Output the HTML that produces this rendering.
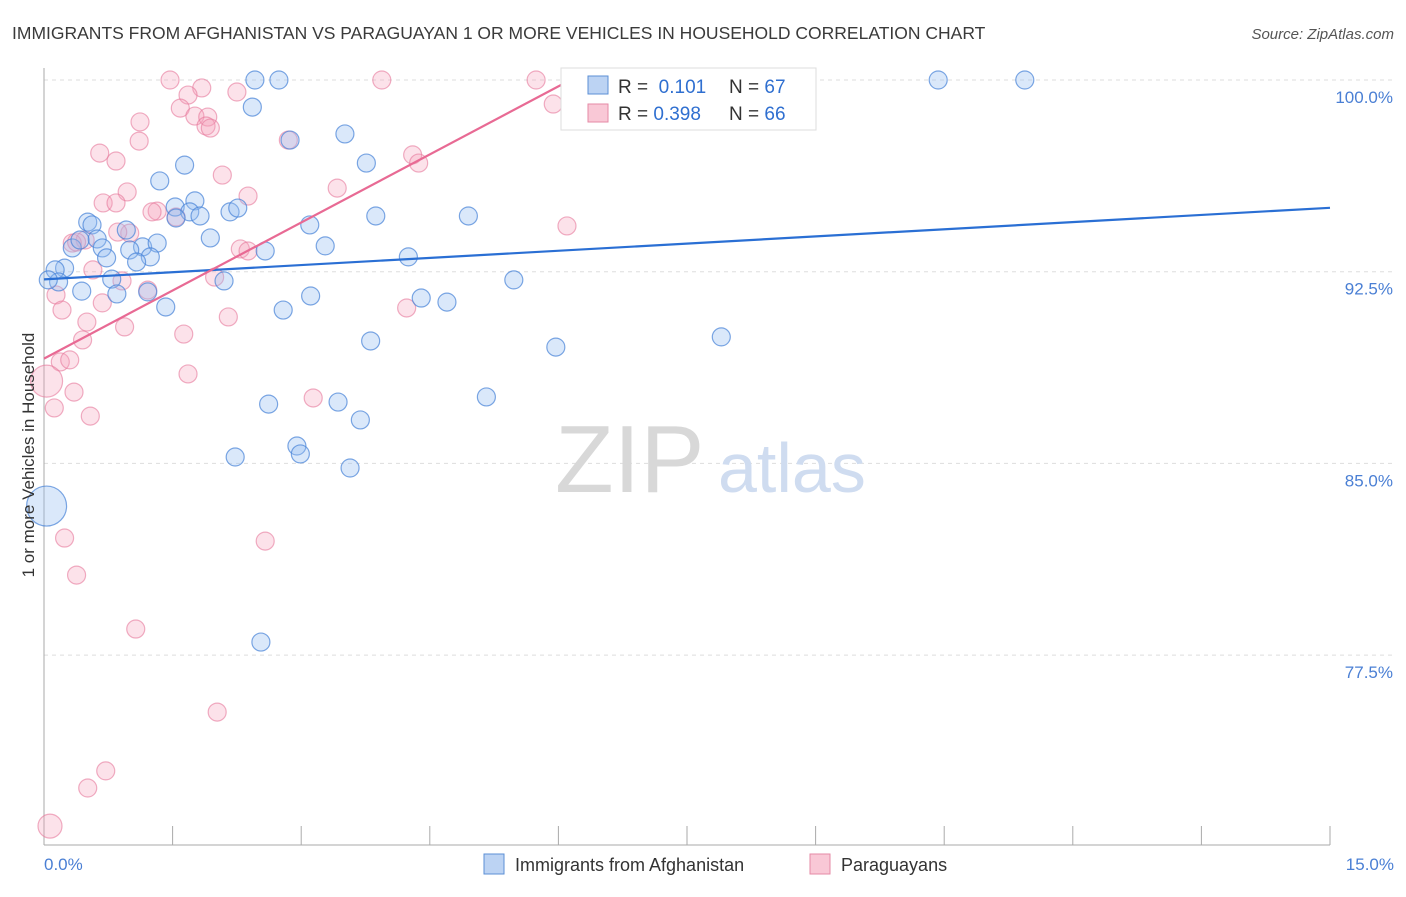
<!DOCTYPE html>
<html><head><meta charset="utf-8"><style>
body{margin:0;background:#fff;font-family:"Liberation Sans",sans-serif;}
svg text{font-family:"Liberation Sans",sans-serif;}
</style></head><body>
<svg width="1406" height="892" viewBox="0 0 1406 892">
<text x="12" y="39" font-size="17.5" fill="#3a3a3a">IMMIGRANTS FROM AFGHANISTAN VS PARAGUAYAN 1 OR MORE VEHICLES IN HOUSEHOLD CORRELATION CHART</text>
<text x="1394" y="39" font-size="15" fill="#555" text-anchor="end" font-style="italic">Source: ZipAtlas.com</text>
<g id="grid"></g>
<g id="axes"></g>
<text x="555" y="492" font-size="96" fill="#d8d8d8" font-family="Liberation Serif">ZIP</text>
<text x="718" y="492" font-size="70" fill="#cfdcf0">atlas</text>
<g id="pts"></g>
<g id="lines"></g>
<text transform="translate(34,455) rotate(-90)" font-size="17" fill="#333" text-anchor="middle">1 or more Vehicles in Household</text>
<text x="44" y="870" font-size="17" fill="#4a7fd4">0.0%</text>
<text x="1394" y="870" font-size="17" fill="#4a7fd4" text-anchor="end">15.0%</text>
<g>
<rect x="561" y="68" width="255" height="62" fill="#fff" stroke="#ddd"/>
<rect x="588" y="76" width="20" height="18" fill="#bcd3f3" stroke="#5b8fd6"/>
<rect x="588" y="104" width="20" height="18" fill="#f9c8d6" stroke="#e58aa6"/>
<text x="618" y="93" font-size="19" fill="#333">R = <tspan fill="#2f6fd0">&#160;0.101</tspan><tspan x="729">N = </tspan><tspan fill="#2f6fd0">67</tspan></text>
<text x="618" y="120" font-size="19" fill="#333">R = <tspan fill="#2f6fd0">0.398</tspan><tspan x="729">N = </tspan><tspan fill="#2f6fd0">66</tspan></text>
</g>
<g>
<rect x="484" y="854" width="20" height="20" fill="#bcd3f3" stroke="#5b8fd6"/>
<text x="515" y="871" font-size="18" fill="#333">Immigrants from Afghanistan</text>
<rect x="810" y="854" width="20" height="20" fill="#f9c8d6" stroke="#e58aa6"/>
<text x="841" y="871" font-size="18" fill="#333">Paraguayans</text>
</g>
</svg>
<script>
const yTicks=[100,92.5,85,77.5];
const xTicks=[0,1.5,3,4.5,6,7.5,9,10.5,12,13.5,15];
const blueTrend=[92.2,95.0];
const pinkTrend=[89.1,100];
const pinkTrendEndX=6.14;
// pixel coords converted: blue series [x%, y%]
const bluePx=[[255,80],[279,80],[938,80],[1025,80],[252,107],[345,134],[290,140],[185,165],[366,163],[160,181],[195,201],[175,207],[190,212],[230,212],[238,208],[176,218],[200,216],[376,216],[468,216],[88,222],[92,225],[310,225],[126,230],[210,238],[97,239],[72,248],[80,240],[143,247],[157,243],[102,248],[130,250],[265,251],[325,246],[408,257],[107,258],[150,257],[137,262],[65,268],[55,270],[59,282],[48,280],[82,291],[112,279],[224,281],[514,280],[117,294],[311,296],[148,292],[421,298],[447,302],[166,307],[283,310],[371,341],[556,347],[721,337],[486,397],[269,404],[338,402],[360,420],[297,446],[300,454],[235,457],[350,468],[261,642],[47,506]];
const pinkPx=[[170,80],[382,80],[536,80],[637,80],[202,88],[188,95],[237,92],[180,108],[553,104],[195,116],[208,117],[140,122],[206,126],[210,128],[139,141],[288,140],[100,153],[116,161],[413,155],[419,163],[222,175],[127,192],[337,188],[248,196],[103,203],[116,203],[157,211],[152,212],[130,233],[118,232],[567,226],[176,217],[85,240],[72,243],[77,242],[240,249],[248,251],[93,270],[122,281],[215,277],[56,295],[148,290],[102,303],[407,308],[62,310],[228,317],[87,322],[125,327],[184,334],[83,340],[60,362],[70,360],[188,374],[47,381],[74,392],[54,408],[90,416],[313,398],[65,538],[265,541],[77,575],[136,629],[217,712],[106,771],[88,788],[50,826]];
const blueX=bluePx.map(p=>+((p[0]-44)*15/1286).toFixed(2));
const blueY=bluePx.map(p=>+(100-(p[1]-80)*7.5/191.7).toFixed(2));
const pinkX=pinkPx.map(p=>+((p[0]-44)*15/1286).toFixed(2));
const pinkY=pinkPx.map(p=>+(100-(p[1]-80)*7.5/191.7).toFixed(2));
const blueR={64:20};
const pinkR={53:16,65:12};
const sx=v=>44+v*1286/15;
const sy=v=>80+(100-v)*191.7/7.5;
const NS='http://www.w3.org/2000/svg';
function mk(tag,attrs,parent){const e=document.createElementNS(NS,tag);for(const k in attrs)e.setAttribute(k,attrs[k]);parent.appendChild(e);return e;}
const grid=document.getElementById('grid'),axes=document.getElementById('axes');
yTicks.forEach(t=>{
 const l=mk('line',{x1:44,x2:1394,y1:sy(t),y2:sy(t),stroke:'#ddd','stroke-dasharray':'4,4'},grid);
 
 
 const tx=mk('text',{x:1393,y:sy(t)+23,'font-size':17,fill:'#4a7fd4','text-anchor':'end'},grid);
 tx.textContent=t.toFixed(1)+'%';
 
 
});
mk('line',{x1:44,x2:44,y1:68,y2:845,stroke:'#aaa'},axes);
mk('line',{x1:44,x2:1330,y1:845,y2:845,stroke:'#aaa'},axes);
xTicks.forEach(t=>{
 const l=mk('line',{x1:sx(t),x2:sx(t),y1:826,y2:845,stroke:'#aaa'},axes);
 
 
});
const pts=document.getElementById('pts');
pinkX.forEach((x,i)=>{
 const c=mk('circle',{cx:sx(x),cy:sy(pinkY[i]),r:pinkR[i]||9,fill:'rgba(244,160,185,0.3)',stroke:'rgba(230,120,155,0.6)','stroke-width':1.2},pts);
 
 
});
blueX.forEach((x,i)=>{
 const c=mk('circle',{cx:sx(x),cy:sy(blueY[i]),r:blueR[i]||9,fill:'rgba(150,190,240,0.35)',stroke:'rgba(70,130,215,0.7)','stroke-width':1.2},pts);
 
 
});
const lines=document.getElementById('lines');
const bl=mk('line',{x1:sx(0),y1:sy(blueTrend[0]),x2:sx(15),y2:sy(blueTrend[1]),stroke:'#2a6fd4','stroke-width':2.2},lines);


const pl=mk('line',{x1:sx(0),y1:sy(pinkTrend[0]),x2:sx(pinkTrendEndX),y2:sy(pinkTrend[1]),stroke:'#e86a94','stroke-width':2.2},lines);


</script>
</body></html>
